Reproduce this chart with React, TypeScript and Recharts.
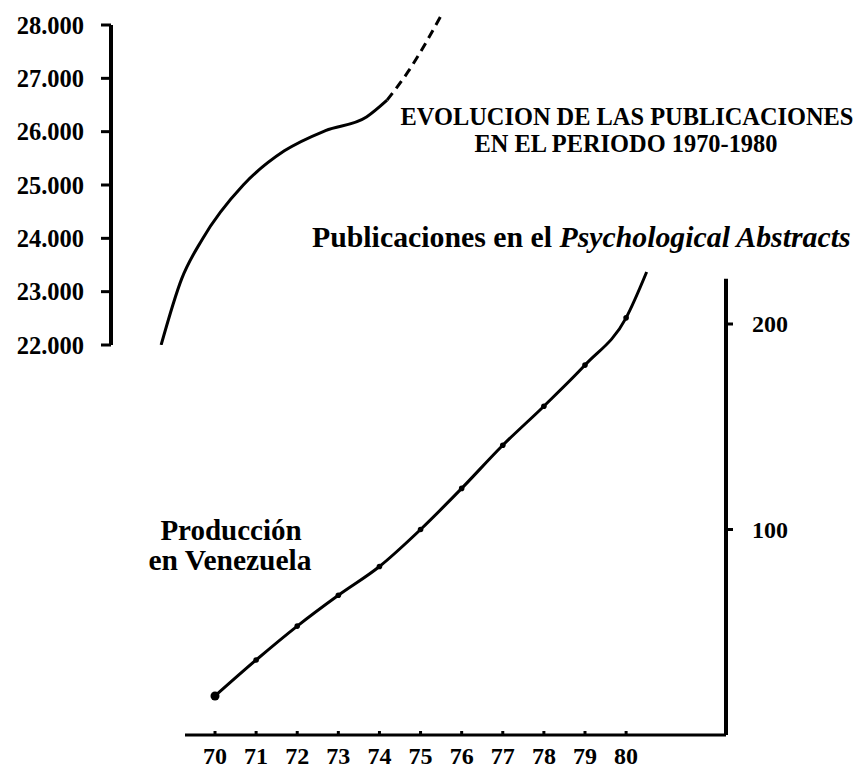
import React from 'react';
import { LineChart, Line, XAxis, YAxis, ReferenceLine } from 'recharts';

// Psychological Abstracts (top curve, left axis) - solid part and dashed projection
const psyYears = [70, 70.5, 71, 72, 73, 74, 75, 75.5];
const psyValues = [22000, 23240, 23980, 25000, 25640, 26020, 26275, 26590];
const psyProjYears = [75.5, 76, 76.85];
const psyProjValues = [26590, 27110, 28225];
const psyTicks = [22000, 23000, 24000, 25000, 26000, 27000, 28000];

// Producción en Venezuela (bottom curve, right axis)
const venYears = [70, 71, 72, 73, 74, 75, 76, 77, 78, 79, 80, 80.5];
const venValues = [19, 36.5, 53, 68, 82, 100, 120, 141, 160, 180, 203, 225.3];
const yearTicks = [70, 71, 72, 73, 74, 75, 76, 77, 78, 79, 80];
const venTicks = [100, 200];

const FONT = "'Liberation Serif', 'Times New Roman', serif";

const psyData = psyYears.map((year, i) => ({ year, value: psyValues[i] }));
const psyProjData = psyProjYears.map((year, i) => ({ year, value: psyProjValues[i] }));
const venData = venYears.map((year, i) => ({ year, value: venValues[i] }));

const thousands = (v: number) => `${Math.floor(v / 1000)}.${String(v % 1000).padStart(3, '0')}`;

function YearTick(props: any) {
  const { x, y, payload } = props;
  return (
    <g>
      <line x1={x} x2={x} y1={y - 4} y2={y} stroke="#000" strokeWidth={3} />
      <text x={x} y={y + 29} textAnchor="middle" fontFamily={FONT} fontWeight="bold" fontSize={24} fill="#000">
        {payload.value}
      </text>
    </g>
  );
}

// right axis labels sit a bit further out than recharts puts them
function RightTick(props: any) {
  const { y, payload } = props;
  return (
    <text x={752} y={y} dy="0.35em" textAnchor="start" fontFamily={FONT} fontWeight="bold" fontSize={24} fill="#000">
      {payload.value}
    </text>
  );
}

function VenDot(props: any) {
  const { cx, cy, payload, index } = props;
  if (!Number.isInteger(payload.year)) return <g key={`d${index}`} />;
  return <circle key={`d${index}`} cx={cx} cy={cy} r={index === 0 ? 4.5 : 2.8} fill="#000" />;
}

export default function App() {
  const tickStyle = { fill: '#000', fontSize: 24.5, fontWeight: 'bold', fontFamily: FONT };
  return (
    <div style={{ position: 'relative', width: 855, height: 768, background: '#fff', overflow: 'hidden' }}>
      <style>{`body{margin:0}`}</style>

      {/* top chart: Psychological Abstracts */}
      <div style={{ position: 'absolute', left: 0, top: 0 }}>
        <LineChart width={500} height={375} margin={{ top: 5, right: 0, bottom: 30, left: 0 }}>
          <XAxis type="number" dataKey="year" domain={[68.78, 78.25]} allowDataOverflow hide />
          <YAxis
            type="number"
            domain={[22000, 28375]}
            allowDataOverflow
            ticks={psyTicks}
            interval={0}
            width={111}
            tickSize={10}
            tickMargin={17}
            axisLine={false}
            tickLine={{ stroke: '#000', strokeWidth: 3 }}
            tick={tickStyle}
            tickFormatter={thousands}
          />
          <ReferenceLine
            segment={[{ x: 68.78, y: 22000 }, { x: 68.78, y: 28000 }]}
            stroke="#000"
            strokeWidth={4}
            ifOverflow="visible"
          />
          <Line data={psyData} dataKey="value" type="monotone" stroke="#000" strokeWidth={3} dot={false} isAnimationActive={false} />
          <Line data={psyProjData} dataKey="value" type="monotone" stroke="#000" strokeWidth={3} strokeDasharray="9 6" dot={false} isAnimationActive={false} />
        </LineChart>
      </div>

      {/* bottom chart: Producción en Venezuela */}
      <div style={{ position: 'absolute', left: 0, top: 0 }}>
        <LineChart width={855} height={768} data={venData} margin={{ top: 262.35, right: 0, bottom: 0, left: 185 }}>
          <XAxis
            type="number"
            dataKey="year"
            domain={[69.27, 82.43]}
            allowDataOverflow
            ticks={yearTicks}
            interval={0}
            height={33}
            tickSize={0}
            tickMargin={0}
            tickLine={false}
            axisLine={{ stroke: '#000', strokeWidth: 3 }}
            tick={<YearTick />}
          />
          <YAxis
            type="number"
            orientation="right"
            domain={[0, 230]}
            allowDataOverflow
            ticks={venTicks}
            interval={0}
            width={129}
            tickSize={7}
            axisLine={false}
            tickLine={{ stroke: '#000', strokeWidth: 3 }}
            tick={<RightTick />}
          />
          <ReferenceLine
            segment={[{ x: 82.43, y: 0 }, { x: 82.43, y: 222 }]}
            stroke="#000"
            strokeWidth={4}
            ifOverflow="visible"
          />
          <Line dataKey="value" type="monotone" stroke="#000" strokeWidth={3} dot={<VenDot />} isAnimationActive={false} />
        </LineChart>
      </div>

      {/* labels */}
      <svg width={855} height={768} style={{ position: 'absolute', left: 0, top: 0, pointerEvents: 'none' }}>
        <g fontFamily={FONT} fontWeight="bold" fill="#000">
          <text x={627} y={125} fontSize={24.4} textAnchor="middle">EVOLUCION DE LAS PUBLICACIONES</text>
          <text x={626} y={152} fontSize={24.4} textAnchor="middle">EN EL PERIODO 1970-1980</text>
          <text x={312} y={247} fontSize={29.8}>
            Publicaciones en el <tspan fontStyle="italic">Psychological Abstracts</tspan>
          </text>
          <text x={231} y={540} fontSize={29} textAnchor="middle">Producción</text>
          <text x={230} y={570} fontSize={29.5} textAnchor="middle">en Venezuela</text>
        </g>
      </svg>
    </div>
  );
}
